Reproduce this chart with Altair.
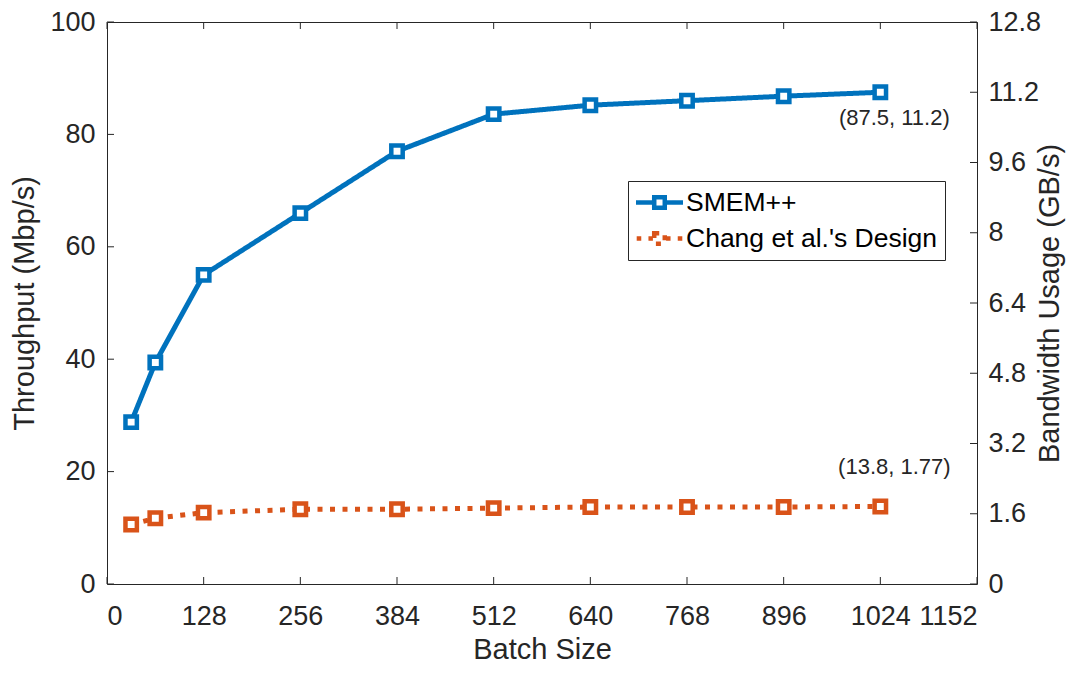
import altair as alt
import pandas as pd

# ---- data ----
batch = [32, 64, 128, 256, 384, 512, 640, 768, 896, 1024]
smem = [28.8, 39.4, 55.0, 66.0, 77.0, 83.6, 85.2, 86.0, 86.8, 87.5]
chang = [10.6, 11.7, 12.7, 13.3, 13.3, 13.5, 13.7, 13.7, 13.7, 13.8]
series_names = ["SMEM++", "Chang et al.'s Design"]
series_colors = ["#0072BD", "#D95319"]
bw_per_mbps = 0.128  # 87.5 Mbp/s <-> 11.2 GB/s

x_ticks = [0, 128, 256, 384, 512, 640, 768, 896, 1024, 1152]
y_left_ticks = [0, 20, 40, 60, 80, 100]
y_right_ticks = [0, 1.6, 3.2, 4.8, 6.4, 8, 9.6, 11.2, 12.8]
annot_labels = ["(87.5, 11.2)", "(13.8, 1.77)"]

# ---- tables ----
df = pd.DataFrame({
    "batch": batch * 2,
    "value": smem + chang,
    "series": [series_names[0]] * len(batch) + [series_names[1]] * len(batch),
})
df["bw"] = df["value"] * bw_per_mbps
ann1 = pd.DataFrame({"batch": [batch[-1]], "value": [smem[-1]], "label": [annot_labels[0]]})
ann2 = pd.DataFrame({"batch": [batch[-1]], "value": [chang[-1]], "label": [annot_labels[1]]})
xt = pd.DataFrame({"v": x_ticks})
ylt = pd.DataFrame({"v": y_left_ticks})
yrt = pd.DataFrame({"v": y_right_ticks})

W, H = 870, 562
FONT = "Liberation Sans"
AX = "#262626"
TICK = 7

xscale = alt.Scale(domain=[0, 1152], nice=False, zero=False)
yscale = alt.Scale(domain=[0, 100], nice=False)
rscale = alt.Scale(domain=[0, 12.8], nice=False)
cscale = alt.Scale(domain=series_names, range=series_colors)

# legend glyphs: line with a hollow square (solid / dotted)
SQ = "M-0.44,-0.44L0.44,-0.44L0.44,0.44L-0.44,0.44Z"
P_SOLID = "M-1.96,0L-0.44,0M0.44,0L1.96,0" + SQ
P_DOT = "M-1.9,0L-1.52,0M-0.92,0L-0.55,0M0.55,0L0.92,0M1.52,0L1.9,0" + SQ

LEG = dict(title=None, orient="none", legendX=521, legendY=159, direction="vertical",
           symbolSize=576, symbolStrokeWidth=4.5, symbolOffset=10,
           labelFont=FONT, labelFontSize=26.5, labelColor="#000000", labelOffset=12,
           rowPadding=7, padding=7, strokeColor=AX, fillColor="white", labelLimit=400)

x_enc = alt.X("batch:Q", scale=xscale, title="Batch Size",
              axis=alt.Axis(values=x_ticks, ticks=False, grid=False, domain=False, format="d",
                            labelPadding=19, titlePadding=6))
y_enc = alt.Y("value:Q", scale=yscale, title="Throughput (Mbp/s)",
              axis=alt.Axis(values=y_left_ticks, ticks=False, grid=False, domain=False,
                            labelPadding=12, titlePadding=10))

lines = alt.Chart(df).mark_line(strokeWidth=5, strokeCap="butt").encode(
    x=x_enc, y=y_enc,
    color=alt.Color("series:N", scale=cscale, legend=alt.Legend(**LEG)),
    strokeDash=alt.StrokeDash("series:N", scale=alt.Scale(domain=series_names, range=[[1, 0], [5, 7.5]]),
                              legend=None),
    detail="series:N")

points = alt.Chart(df).mark_point(shape="square", filled=True, fill="white", size=130,
                                  strokeWidth=4.5, opacity=1).encode(
    x=alt.X("batch:Q", scale=xscale), y=alt.Y("value:Q", scale=yscale),
    stroke=alt.Stroke("series:N", scale=cscale, legend=None))

legend_layer = alt.Chart(df).transform_filter("false").mark_point(
    filled=False, size=576, strokeWidth=4.5, opacity=1).encode(
    x=alt.X("batch:Q", scale=xscale), y=alt.Y("value:Q", scale=yscale),
    color=alt.Color("series:N", scale=cscale, legend=alt.Legend(**LEG)),
    shape=alt.Shape("series:N", scale=alt.Scale(domain=series_names, range=[P_SOLID, P_DOT]),
                    legend=alt.Legend(**LEG)))

t1 = alt.Chart(ann1).mark_text(font=FONT, fontSize=22, color=AX, align="center", dx=14, dy=26).encode(
    x=alt.X("batch:Q", scale=xscale), y=alt.Y("value:Q", scale=yscale), text="label:N")
t2 = alt.Chart(ann2).mark_text(font=FONT, fontSize=22, color=AX, align="center", dx=14, dy=-39).encode(
    x=alt.X("batch:Q", scale=xscale), y=alt.Y("value:Q", scale=yscale), text="label:N")

bticks = alt.Chart(xt).mark_rule(color=AX, strokeWidth=1).encode(
    x=alt.X("v:Q", scale=xscale), y=alt.value(H), y2=alt.value(H - TICK))
tticks = alt.Chart(xt).mark_rule(color=AX, strokeWidth=1).encode(
    x=alt.X("v:Q", scale=xscale), y=alt.value(0), y2=alt.value(TICK))
lticks = alt.Chart(ylt).mark_rule(color=AX, strokeWidth=1).encode(
    y=alt.Y("v:Q", scale=yscale), x=alt.value(0), x2=alt.value(TICK))

left = alt.layer(lines, points, t1, t2, bticks, tticks, lticks, legend_layer)

right_axis = alt.Chart(df).mark_line(opacity=0).encode(
    x=alt.X("batch:Q", scale=xscale),
    y=alt.Y("bw:Q", scale=rscale, title="Bandwidth Usage (GB/s)",
            axis=alt.Axis(orient="right", values=y_right_ticks, ticks=False, grid=False, domain=False,
                          labelPadding=11, titlePadding=24, titleAngle=270,
                          labelExpr="format(datum.value, '.1~f')")),
    detail="series:N")
rticks = alt.Chart(yrt).mark_rule(color=AX, strokeWidth=1).encode(
    y=alt.Y("v:Q", scale=rscale), x=alt.value(W), x2=alt.value(W - TICK))
right = alt.layer(right_axis, rticks)

chart = alt.layer(left, right).resolve_scale(y="independent").properties(
    width=W, height=H,
    background="white",
    autosize=alt.AutoSizeParams(type="none"),
    padding={"left": 99, "top": 14, "right": 90, "bottom": 81},
).configure_view(stroke=AX, strokeWidth=1).configure_axis(
    labelFont=FONT, labelFontSize=27, labelColor=AX,
    titleFont=FONT, titleFontSize=29, titleColor=AX, titleFontWeight="normal",
)

chart.save("out.html", embed_options={"renderer": "svg", "actions": False})
